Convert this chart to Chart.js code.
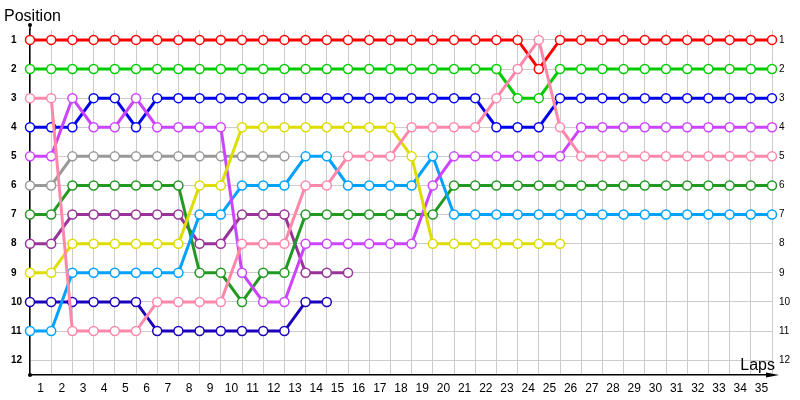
<!DOCTYPE html>
<html>
<head>
<meta charset="utf-8">
<script src="https://cdn.jsdelivr.net/npm/chart.js@4.4.1/dist/chart.umd.min.js"></script>
<style>
  html, body { margin: 0; padding: 0; background: #fff; }
  #box { width: 800px; height: 400px; }
</style>
</head>
<body>
<div id="box"><canvas id="graficoVoltas"></canvas></div>
<script>
// ---------------- DADOS (posição por volta, índice 0 = largada) ----------------
const voltas = ["1","2","3","4","5","6","7","8","9","10","11","12","13","14","15","16","17","18",
  "19","20","21","22","23","24","25","26","27","28","29","30","31","32","33","34","35"];
const posicoes = [1,2,3,4,5,6,7,8,9,10,11,12];

const pilotoRosa    = [3,3,11,11,11,11,10,10,10,10,8,8,8,6,6,5,5,5,4,4,4,4,3,2,1,4,5,5,5,5,5,5,5,5,5,5];
const pilotoAmarelo = [9,9,8,8,8,8,8,8,6,6,4,4,4,4,4,4,4,4,5,8,8,8,8,8,8,8];
const pilotoVioleta = [5,5,3,4,4,3,4,4,4,4,9,10,10,8,8,8,8,8,8,6,5,5,5,5,5,5,4,4,4,4,4,4,4,4,4,4];
const pilotoCeleste = [11,11,9,9,9,9,9,9,7,7,6,6,6,5,5,6,6,6,6,5,7,7,7,7,7,7,7,7,7,7,7,7,7,7,7,7];
const pilotoVerde   = [7,7,6,6,6,6,6,6,9,9,10,9,9,7,7,7,7,7,7,7,6,6,6,6,6,6,6,6,6,6,6,6,6,6,6,6];
const pilotoRoxo    = [8,8,7,7,7,7,7,7,8,8,7,7,7,9,9,9];
const pilotoAzul    = [4,4,4,3,3,4,3,3,3,3,3,3,3,3,3,3,3,3,3,3,3,3,4,4,4,3,3,3,3,3,3,3,3,3,3,3];
const pilotoMarinho = [10,10,10,10,10,10,11,11,11,11,11,11,11,10,10];
const pilotoCinza   = [6,6,5,5,5,5,5,5,5,5,5,5,5];
const pilotoLima    = [2,2,2,2,2,2,2,2,2,2,2,2,2,2,2,2,2,2,2,2,2,2,2,3,3,2,2,2,2,2,2,2,2,2,2,2];
const pilotoVermelho= [1,1,1,1,1,1,1,1,1,1,1,1,1,1,1,1,1,1,1,1,1,1,1,1,2,1,1,1,1,1,1,1,1,1,1,1];

// primeiro da lista fica por cima
const pilotos = [
  { dados: pilotoRosa,     cor: "#ff88aa" },
  { dados: pilotoAmarelo,  cor: "#dddd00" },
  { dados: pilotoVioleta,  cor: "#cc44ff" },
  { dados: pilotoCeleste,  cor: "#00a2ff" },
  { dados: pilotoVerde,    cor: "#229922" },
  { dados: pilotoRoxo,     cor: "#993399" },
  { dados: pilotoAzul,     cor: "#0000ee" },
  { dados: pilotoMarinho,  cor: "#1a00bb" },
  { dados: pilotoCinza,    cor: "#999999" },
  { dados: pilotoLima,     cor: "#00cc00" },
  { dados: pilotoVermelho, cor: "#ff0000" }
];

const fonte = "'Liberation Sans', 'DejaVu Sans', sans-serif";

// ---------------- PLUGIN DOS EIXOS (seta, pontos, títulos) ----------------
const eixosPlugin = {
  id: "eixosPlugin",
  afterDraw(chart) {
    const { ctx, chartArea } = chart;
    const x0 = chartArea.left, y0 = chartArea.bottom;
    ctx.save();
    ctx.strokeStyle = "#000";
    ctx.fillStyle = "#000";
    ctx.lineWidth = 1.5;
    // prolonga eixo Y até o ponto
    ctx.beginPath();
    ctx.moveTo(x0, chartArea.top);
    ctx.lineTo(x0, 25);
    ctx.stroke();
    ctx.beginPath(); ctx.arc(x0, 25, 2, 0, Math.PI * 2); ctx.fill();
    ctx.beginPath(); ctx.arc(x0, y0, 2, 0, Math.PI * 2); ctx.fill();
    // prolonga eixo X com a seta
    ctx.beginPath();
    ctx.moveTo(chartArea.right, y0);
    ctx.lineTo(770, y0);
    ctx.stroke();
    ctx.beginPath();
    ctx.moveTo(766, y0 - 2.5);
    ctx.lineTo(779, y0);
    ctx.lineTo(766, y0 + 2.5);
    ctx.closePath();
    ctx.fill();
    // títulos
    ctx.font = "16px " + fonte;
    ctx.textBaseline = "alphabetic";
    ctx.textAlign = "left";
    ctx.fillText("Position", 4, 21);
    ctx.textAlign = "right";
    ctx.fillText("Laps", 775, 370);
    ctx.restore();
  }
};

// ---------------- GRAFICO ----------------
const ctx = document.getElementById("graficoVoltas").getContext("2d");
const graficoVoltas = new Chart(ctx, {
  type: "line",
  data: {
    datasets: pilotos.map(p => ({
      data: p.dados.map((pos, i) => ({ x: i, y: pos })),
      borderColor: p.cor,
      backgroundColor: p.cor,
      borderWidth: 3,
      pointRadius: 4.5,
      pointBorderWidth: 1.5,
      pointBackgroundColor: "#ffffff",
      pointBorderColor: p.cor,
      clip: false,
      tension: 0
    }))
  },
  options: {
    responsive: true,
    maintainAspectRatio: false,
    animation: false,
    layout: { padding: { top: 30, left: 11, right: 0, bottom: 0 } },
    plugins: { legend: { display: false }, tooltip: { enabled: false } },
    scales: {
      x: {
        type: "linear",
        min: 0,
        max: voltas.length,
        afterBuildTicks: s => { s.ticks = voltas.concat([""]).map((_, i) => ({ value: i })); },
        afterFit: s => { s.height = 25; },
        grid: { color: "#cccccc", drawTicks: false },
        border: { color: "#000", width: 1.5 },
        ticks: {
          padding: 6,
          labelOffset: 10.6,
          maxRotation: 0,
          autoSkip: false,
          color: "#000",
          font: { family: fonte, size: 12 },
          callback: v => voltas[v] || ""
        }
      },
      y: {
        type: "linear",
        position: "left",
        reverse: true,
        min: 0.66,
        max: 12.51,
        afterBuildTicks: s => { s.ticks = posicoes.map(v => ({ value: v })); },
        afterFit: s => { s.width = 19; },
        grid: { color: "#cccccc", drawTicks: false },
        border: { color: "#000", width: 1.5 },
        ticks: {
          padding: 0,
          crossAlign: "far",
          color: "#000",
          font: { family: fonte, size: 10, weight: "bold" }
        }
      },
      y2: {
        type: "linear",
        position: "right",
        reverse: true,
        min: 0.66,
        max: 12.51,
        afterBuildTicks: s => { s.ticks = posicoes.map(v => ({ value: v })); },
        afterFit: s => { s.width = 28; },
        grid: { display: false, drawTicks: false },
        border: { display: false },
        ticks: {
          padding: 7,
          crossAlign: "near",
          color: "#000",
          font: { family: fonte, size: 10 }
        }
      }
    }
  },
  plugins: [eixosPlugin]
});
</script>
</body>
</html>
